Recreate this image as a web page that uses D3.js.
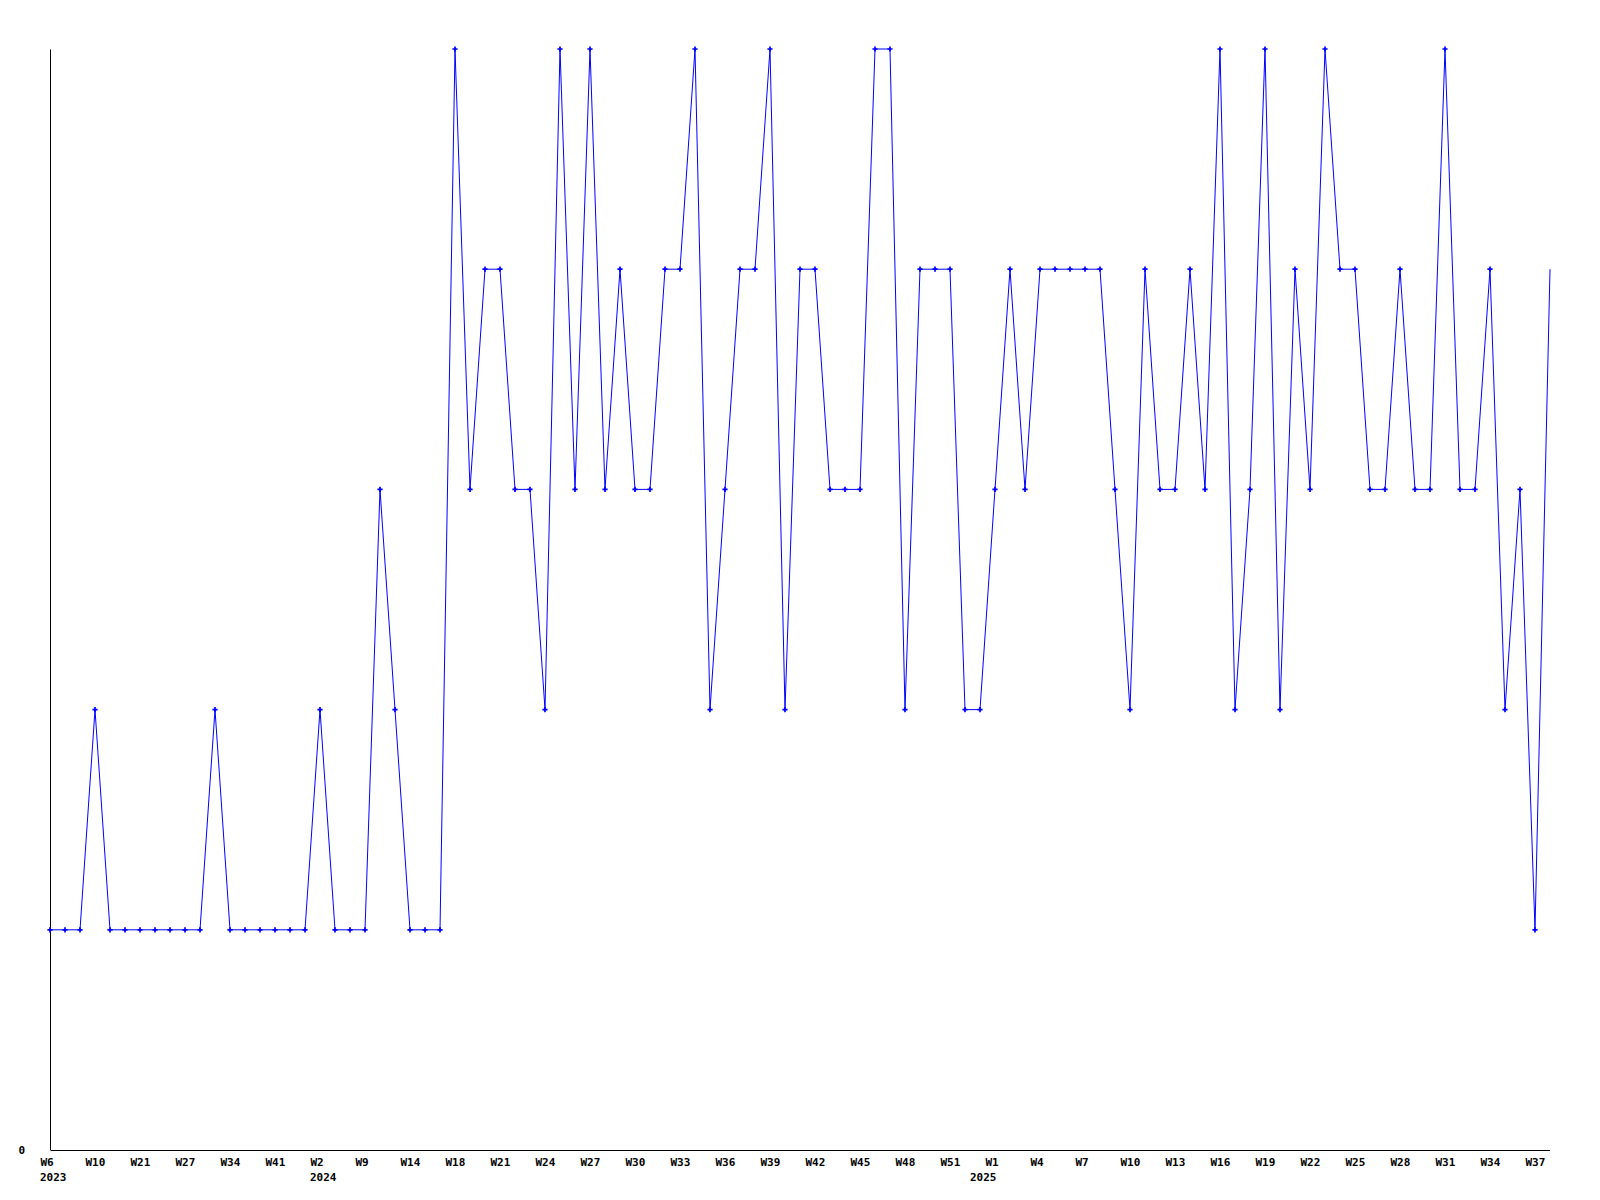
<!DOCTYPE html>
<html>
<head>
<meta charset="utf-8">
<script src="https://cdn.jsdelivr.net/npm/d3@7"></script>
<style>
  body { margin: 0; background: #fff; }
  .axis text { font-family: "DejaVu Sans Mono", monospace; font-size: 11px; font-weight: bold; fill: #000; }
  .axis path { stroke: #000; }
</style>
</head>
<body>
<div id="canvas" class="canvas"></div>
<script>
// weekly values, one per week
var values = [1,1,1,2,1,1,1,1,1,1,1,2,1,1,1,1,1,1,2,1,1,1,3,2,1,1,1,
  5,3,4,4,3,3,2,5,3,5,3,4,3,3,4,4,5,2,3,4,4,5,2,4,4,3,3,3,5,5,2,4,4,4,2,2,
  3,4,3,4,4,4,4,4,3,2,4,3,3,4,3,5,2,3,5,2,4,3,5,4,4,3,3,4,3,3,5,3,3,4,2,3,1,4];

// labels shown every third week
var weekLabels = ['W6','W10','W21','W27','W34','W41','W2','W9','W14','W18','W21','W24',
  'W27','W30','W33','W36','W39','W42','W45','W48','W51','W1','W4','W7','W10','W13',
  'W16','W19','W22','W25','W28','W31','W34','W37'];
// year label -> week index where it is written
var yearIdx = [0, 18, 62];
var yearNames = ['2023', '2024', '2025'];

var outerWidth = 1600, outerHeight = 1200;
var m = {t:49, r:50, b:50, l:50};
var w = outerWidth - m.l - m.r,
    h = 1150 - m.t;

var svg = d3.select('.canvas')
    .append('svg')
    .attr('width', outerWidth)
    .attr('height', outerHeight);

var plot = svg.append('g')
    .attr('transform', 'translate(' + m.l + ',' + m.t + ')');

var scaleX = d3.scaleLinear()
    .domain([0, values.length - 1])
    .range([0, w]);

var scaleY = d3.scaleLinear()
    .domain([0, 5])
    .range([h, 0]);

var tickIdx = weekLabels.map(function(d, i){ return i * 3; });

//x axis
var axisX = d3.axisBottom(scaleX)
    .tickValues(tickIdx)
    .tickSize(0)
    .tickPadding(0)
    .tickFormat(function(d){ return weekLabels[d / 3]; });

var gx = plot.append('g')
    .attr('class', 'axis axis-x')
    .attr('transform', 'translate(0,' + h + ')')
    .call(axisX);
gx.select('.domain').attr('d', 'M0.5,0.5H' + w);
gx.selectAll('.tick text')
    .attr('text-anchor', 'start')
    .attr('x', -10)
    .attr('y', 16)
    .attr('dy', null);

//year row under the week labels
gx.selectAll('.year')
    .data(yearIdx)
    .enter()
    .append('text')
    .attr('class', 'year')
    .attr('x', function(d){ return scaleX(d) - 10; })
    .attr('y', 31)
    .attr('text-anchor', 'start')
    .text(function(d, i){ return yearNames[i]; });

//y axis
var axisY = d3.axisLeft(scaleY)
    .tickValues([0])
    .tickFormat(d3.format('d'))
    .tickSize(0)
    .tickPadding(25);

var gy = plot.append('g')
    .attr('class', 'axis axis-y')
    .call(axisY);
gy.select('.domain').attr('d', 'M0.5,' + h + 'V0.5');
gy.selectAll('.tick text').attr('dy', '0.35em');

//line
var line = d3.line()
    .x(function(d, i){ return scaleX(i); })
    .y(function(d){ return scaleY(d); });

plot.append('path')
    .datum(values)
    .attr('d', line)
    .attr('fill', 'none')
    .attr('stroke', '#0000ff')
    .attr('stroke-width', 1);

//markers (last week has none)
plot.selectAll('.pt')
    .data(values.slice(0, values.length - 1))
    .enter()
    .append('path')
    .attr('class', 'pt')
    .attr('d', d3.symbol(d3.symbolCross, 15))
    .attr('transform', function(d, i){
        return 'translate(' + scaleX(i) + ',' + scaleY(d) + ')';
    })
    .attr('fill', '#0000ff');
</script>
</body>
</html>
